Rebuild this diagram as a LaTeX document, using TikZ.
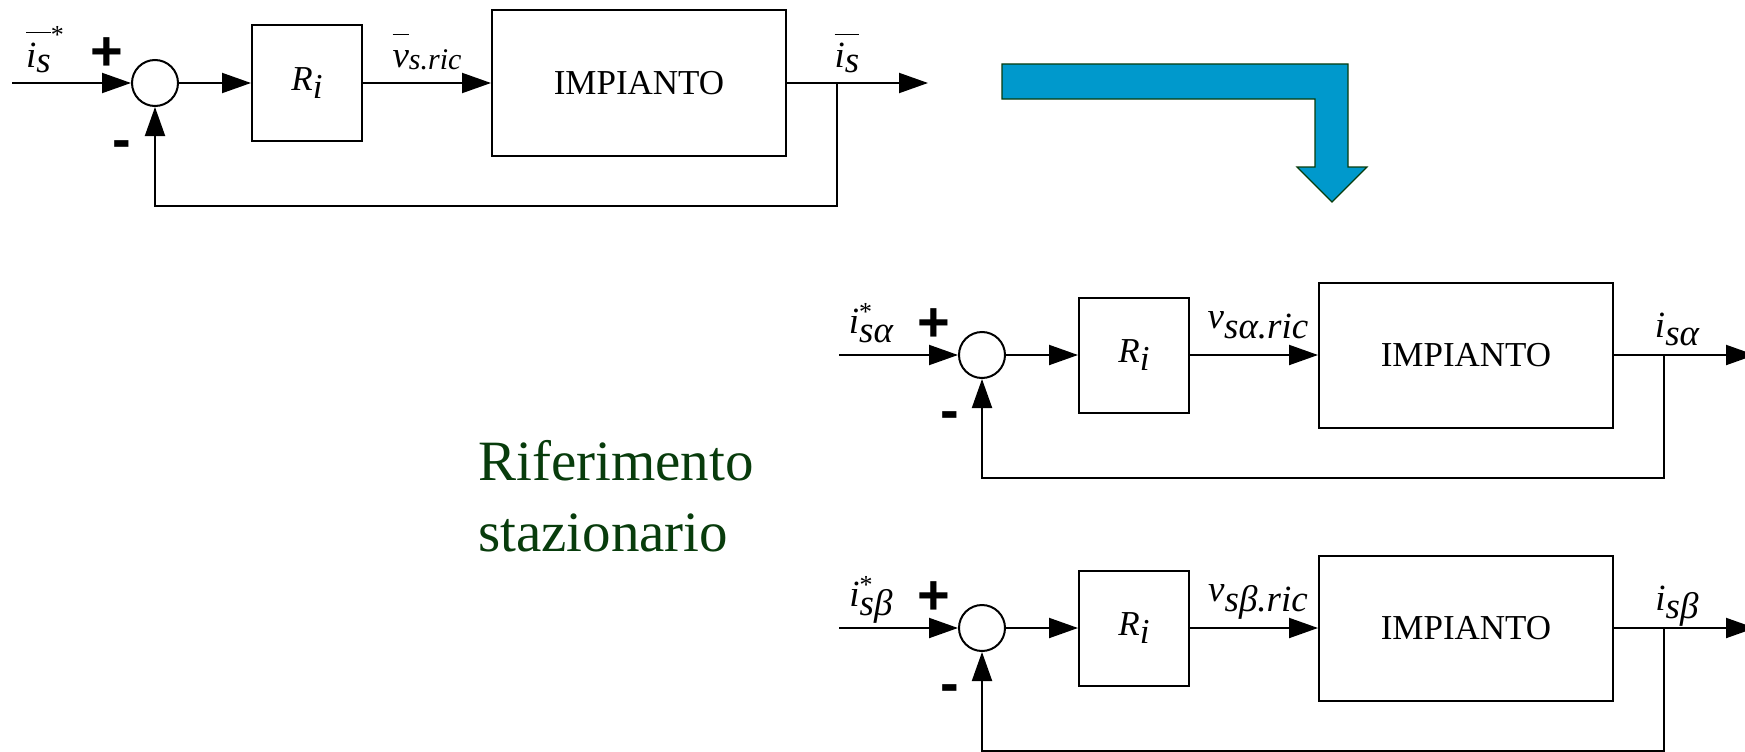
\RequirePackage{fix-cm}
\documentclass[tikz,border=0pt]{standalone}
\usepackage{fontspec}
\setmainfont{Liberation Serif}
\newfontfamily\signfont{Liberation Sans}
\usetikzlibrary{arrows.meta,positioning,calc}
\definecolor{verdescuro}{RGB}{8,60,12}
\definecolor{azzurro}{RGB}{0,153,204}
\newcommand{\pedice}[2][9pt]{\raisebox{-#1}{\itshape #2}}
\newcommand{\apice}[2][13pt]{\raisebox{#1}{\fontsize{26}{30}\selectfont\upshape #2}}
\newcommand{\barra}[2][31pt]{$\overline{\hbox{\rule{0pt}{#1}#2}}$}

\begin{document}
\begin{tikzpicture}[x=1pt, y=1pt,
    sum/.style={draw, line width=2pt, circle, minimum size=46pt, inner sep=0pt},
    blk/.style={draw, line width=2pt, minimum width=110pt, minimum height=115pt,
                font=\fontsize{35}{42}\selectfont},
    pla/.style={draw, line width=2pt, minimum width=294pt, minimum height=145pt,
                font=\fontsize{35}{42}\selectfont},
    sig/.style={line width=2pt, -{Triangle[length=29pt,width=20pt]}},
    lbl/.style={anchor=base, inner sep=0pt, font=\fontsize{37}{44}\selectfont},
    sgn/.style={inner sep=0pt, font=\fontsize{56}{60}\signfont\bfseries}
  ]
    \useasboundingbox (0,0) rectangle (1745,-752);

    %% ── anello vettoriale ──
    \node[sum]                      (sum0) at (155,-83) {};
    \node[blk, right=72pt of sum0]  (ri0)  {\textit{R}\pedice[8pt]{i}};
    \node[pla, right=128pt of ri0]  (imp0) {IMPIANTO};
    \coordinate[left=119pt of sum0] (in0);
    \coordinate[right=50pt of imp0] (tap0);
    \coordinate[right=141pt of imp0] (out0);

    \draw[sig] (in0) -- (sum0);
    \draw[sig] (sum0) -- (ri0);
    \draw[sig] (ri0) -- (imp0);
    \draw[sig] (imp0) -- (out0);
    \draw[sig] (tap0) -- ++(0,-123) -| (sum0);

    \node[lbl] (ref0) at ($(sum0)+(-110,16)$) {\barra[33pt]{\textit{i}\pedice[5pt]{s}}\apice[24pt]{*}};
    \node[lbl] (v0)   at ($($(ri0.east)!0.5!(imp0.west)$)+(0,16)$) {\barra{\textit{v}}{\fontsize{30}{36}\selectfont\pedice[2pt]{s.ric}}};
    \node[lbl] (is0)  at ($(tap0)+(10,16)$) {\barra{\textit{i}\pedice[5pt]{s}}};
    \node[sgn] (p0)   at ($(sum0)+(-48,29)$) {+};
    \node[sgn] (m0)   at ($(sum0)+(-33,-67)$) {-};

    %% ── asse alfa ──
    \node[sum]                      (sum1) at (982,-355) {};
    \node[blk, right=72pt of sum1]  (ri1)  {\textit{R}\pedice[8pt]{i}};
    \node[pla, right=128pt of ri1]  (imp1) {IMPIANTO};
    \coordinate[left=119pt of sum1] (in1);
    \coordinate[right=50pt of imp1] (tap1);
    \coordinate[right=141pt of imp1] (out1);

    \draw[sig] (in1) -- (sum1);
    \draw[sig] (sum1) -- (ri1);
    \draw[sig] (ri1) -- (imp1);
    \draw[sig] (imp1) -- (out1);
    \draw[sig] (tap1) -- ++(0,-123) -| (sum1);

    \node[lbl] (ref1) at ($(sum1)+(-111,22)$) {\textit{i}\rlap{\apice{*}}\pedice{sα}};
    \node[lbl] (v1)   at ($($(ri1.east)!0.5!(imp1.west)$)+(4,27)$) {\textit{v}\pedice[10pt]{sα.ric}};
    \node[lbl] (is1)  at ($(tap1)+(13,18)$) {\textit{i}\pedice[8pt]{sα}};
    \node[sgn] (p1)   at ($(sum1)+(-48,30)$) {+};
    \node[sgn] (m1)   at ($(sum1)+(-32,-66)$) {-};

    %% ── asse beta ──
    \node[sum]                      (sum2) at (982,-628) {};
    \node[blk, right=72pt of sum2]  (ri2)  {\textit{R}\pedice[8pt]{i}};
    \node[pla, right=128pt of ri2]  (imp2) {IMPIANTO};
    \coordinate[left=119pt of sum2] (in2);
    \coordinate[right=50pt of imp2] (tap2);
    \coordinate[right=141pt of imp2] (out2);

    \draw[sig] (in2) -- (sum2);
    \draw[sig] (sum2) -- (ri2);
    \draw[sig] (ri2) -- (imp2);
    \draw[sig] (imp2) -- (out2);
    \draw[sig] (tap2) -- ++(0,-123) -| (sum2);

    \node[lbl] (ref2) at ($(sum2)+(-111,22)$) {\textit{i}\rlap{\apice{*}}\pedice{sβ}};
    \node[lbl] (v2)   at ($($(ri2.east)!0.5!(imp2.west)$)+(4,27)$) {\textit{v}\pedice[10pt]{sβ.ric}};
    \node[lbl] (is2)  at ($(tap2)+(13,18)$) {\textit{i}\pedice[8pt]{sβ}};
    \node[sgn] (p2)   at ($(sum2)+(-48,30)$) {+};
    \node[sgn] (m2)   at ($(sum2)+(-32,-66)$) {-};

    %% ── freccia ──
    \draw[draw=verdescuro, line width=1.2pt, fill=azzurro]
      (1002,-64) -- (1348,-64) -- (1348,-167) -- (1367,-167) -- (1332,-202)
      -- (1297,-167) -- (1315,-167) -- (1315,-99) -- (1002,-99) -- cycle;

    %% ── didascalia ──
    \node[anchor=north west, inner sep=0pt, align=left, text=verdescuro,
          font=\fontsize{57}{71}\selectfont] (rif) at (478,-440) {Riferimento\\stazionario};
\end{tikzpicture}
\end{document}
